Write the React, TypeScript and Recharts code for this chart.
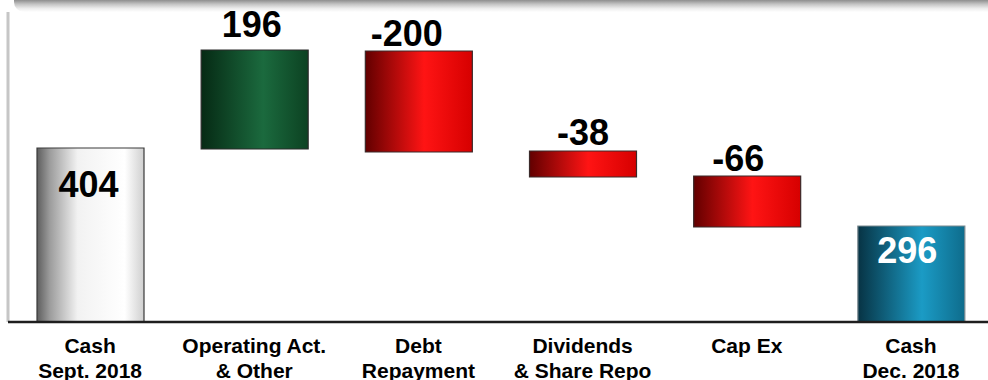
import React from "react";
import { BarChart, Bar, XAxis, YAxis, Cell } from "recharts";

// Category labels (two lines each)
const categoryLine1 = ["Cash", "Operating Act.", "Debt", "Dividends", "Cap Ex", "Cash"];
const categoryLine2 = ["Sept. 2018", "& Other", "Repayment", "& Share Repo", "", "Dec. 2018"];

// Value labels shown on the bars
const values = [404, 196, -200, -38, -66, 296];

// Bar extents as drawn in the original slide (display units, not drawn to scale)
const barLow = [0, 346, 340, 290, 190, 0];
const barHigh = [348, 544, 542, 342, 292, 192];

const data = categoryLine1.map((c, i) => ({
  name: c + " " + categoryLine2[i],
  range: [barLow[i], barHigh[i]],
  value: values[i],
}));

// Styling
const FONT = "Arial, 'Liberation Sans', Helvetica, sans-serif";
const gradIds = ["gGray", "gGreen", "gRed", "gRed", "gRed", "gTeal"];
const strokeColors = ["#3a3a3a", "#2a2a2a", "#3a2a2a", "#3a2a2a", "#3a2a2a", "#7a8a90"];
const labelColor = ["#000", "#000", "#000", "#000", "#000", "#fff"];
const labelDx = [-2, -3, -12, 0, -9, -4];
const labelDy = [49, -13, -5, -6, -5, 37];

const Tick = (props: any) => {
  const { x, y, index } = props;
  return (
    <text
      x={x}
      y={y}
      textAnchor="middle"
      fontFamily={FONT}
      fontWeight="bold"
      fontSize={21}
      fill="#000"
    >
      <tspan x={x} dy={31}>{categoryLine1[index]}</tspan>
      <tspan x={x} dy={24.5}>{categoryLine2[index]}</tspan>
    </text>
  );
};

const ValueLabel = (props: any) => {
  const { x, y, width, index } = props;
  const cx = Number(x) + Number(width) / 2 + labelDx[index];
  const ty = Number(y) + labelDy[index];
  return (
    <text
      x={cx}
      y={ty}
      textAnchor="middle"
      fontFamily={FONT}
      fontWeight="bold"
      fontSize={36}
      fill={labelColor[index]}
    >
      {values[index]}
    </text>
  );
};

export default function App() {
  return (
    <div
      style={{
        position: "fixed",
        left: 0,
        top: 0,
        width: 988,
        height: 380,
        overflow: "hidden",
        background: "#fff",
      }}
    >
      <div
        style={{
          position: "absolute",
          left: 14,
          right: 0,
          top: 0,
          height: 12,
          background: "linear-gradient(#8e8e8e 0%, #c4c4c4 35%, #ececec 70%, #ffffff 100%)",
          borderBottomLeftRadius: 10,
        }}
      />
      <div style={{ position: "absolute", left: 0, top: 0 }}>
        <BarChart
          width={995}
          height={380}
          data={data}
          margin={{ top: 12, right: 2, bottom: 57, left: 0 }}
        >
          <defs>
            <linearGradient id="gGray" x1="0" y1="0" x2="1" y2="0">
              <stop offset="0%" stopColor="#5e5e5e" />
              <stop offset="12%" stopColor="#9c9c9c" />
              <stop offset="38%" stopColor="#f2f2f2" />
              <stop offset="82%" stopColor="#ffffff" />
              <stop offset="100%" stopColor="#cfcfcf" />
            </linearGradient>
            <linearGradient id="gGreen" x1="0" y1="0" x2="1" y2="0">
              <stop offset="0%" stopColor="#062a14" />
              <stop offset="58%" stopColor="#1b6a3e" />
              <stop offset="100%" stopColor="#0c4222" />
            </linearGradient>
            <linearGradient id="gRed" x1="0" y1="0" x2="1" y2="0">
              <stop offset="0%" stopColor="#620000" />
              <stop offset="55%" stopColor="#ff1414" />
              <stop offset="100%" stopColor="#d60000" />
            </linearGradient>
            <linearGradient id="gTeal" x1="0" y1="0" x2="1" y2="0">
              <stop offset="0%" stopColor="#073344" />
              <stop offset="60%" stopColor="#1b9bc5" />
              <stop offset="100%" stopColor="#0e6c8c" />
            </linearGradient>
          </defs>
          <YAxis
            domain={[0, 620]}
            width={8}
            tick={false}
            tickLine={false}
            axisLine={{ stroke: "#c6c6c6", strokeWidth: 3 }}
            allowDataOverflow
          />
          <XAxis
            dataKey="name"
            interval={0}
            height={1}
            tickLine={false}
            tickSize={0}
            tickMargin={0}
            tick={<Tick />}
            axisLine={{ stroke: "#1e1e1e", strokeWidth: 2.5 }}
          />
          <Bar
            dataKey="range"
            barSize={107}
            isAnimationActive={false}
            label={<ValueLabel />}
          >
            {data.map((d, i) => (
              <Cell
                key={d.name}
                fill={`url(#${gradIds[i]})`}
                stroke={strokeColors[i]}
                strokeWidth={1.2}
              />
            ))}
          </Bar>
        </BarChart>
      </div>
    </div>
  );
}
